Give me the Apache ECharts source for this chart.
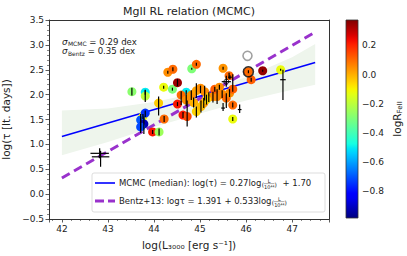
<!DOCTYPE html>
<html><head><meta charset="utf-8">
<script src="https://cdn.jsdelivr.net/npm/echarts@6/dist/echarts.min.js"></script>
<style>html,body{margin:0;padding:0;background:#fff}#c{width:407px;height:256px}</style>
</head><body><div id="c"></div><script>
// ---- data ----
const logL    = [43.52,43.81,43.81,43.76,43.81,43.71,43.78,43.71,43.97,44.11,44.10,44.22,44.21,44.30,44.41,44.40,44.51,44.51,44.70,44.82,44.92,44.63,44.72,44.59,44.70,44.81,44.92,44.92,45.01,45.10,45.08,45.19,45.28,45.37,45.32,45.42,45.48,45.57,45.64,45.50,45.63,45.71,45.71,45.71,46.05,46.11,46.36,46.75,44.86,45.02,45.14];
const logTau  = [2.06,2.05,1.97,1.56,1.63,1.49,1.41,1.35,1.25,1.25,1.83,1.51,2.15,2.45,2.51,2.11,2.24,1.81,2.05,2.52,2.61,1.59,1.56,1.99,1.89,1.99,2.08,1.66,2.13,2.06,1.83,1.95,1.96,1.96,2.11,2.15,2.01,1.93,2.03,2.53,2.38,2.11,1.79,1.51,2.46,2.30,2.48,2.50,1.84,1.76,1.90];
const tauErrLo= [0.08,0.05,0.12,0.05,0.08,0.20,0.20,0.12,0.04,0.07,0.25,0.06,0.03,0.03,0.04,0.03,0.07,0.04,0.04,0.02,0.03,0.06,0.20,0.20,0.12,0.10,0.15,0.12,0.10,0.18,0.10,0.10,0.12,0.15,0.05,0.05,0.08,0.20,0.08,0.03,0.06,0.05,0.05,0.04,0.03,0.04,0.02,0.02,0.10,0.12,0.10];
const tauErrHi= [0.08,0.05,0.12,0.05,0.05,0.12,0.15,0.20,0.04,0.07,0.13,0.06,0.03,0.03,0.04,0.03,0.07,0.04,0.04,0.02,0.03,0.06,0.32,0.08,0.12,0.10,0.15,0.10,0.05,0.12,0.10,0.10,0.10,0.15,0.05,0.05,0.08,0.10,0.08,0.03,0.06,0.30,0.05,0.04,0.03,0.04,0.02,0.02,0.10,0.12,0.10];
const logRFeII= [-0.28,-0.50,-0.20,-0.10,-0.75,-0.70,-0.92,-0.72,0.22,-0.25,-0.04,0.10,-0.12,0.05,0.10,-0.30,0.34,0.22,-0.50,-0.30,0.10,0.22,0.15,0.10,0.05,0.04,0.02,-0.05,0.05,0.05,0.04,-0.03,0.05,0.06,0.12,0.05,0.06,0.10,0.05,0.04,0.10,0.12,0.10,-0.12,0.10,0.12,0.35,-0.12,0.00,-0.02,-0.06];
// sources drawn only as black error crosses
const crossL    = [42.82,42.84,46.80,45.50,45.86,45.57,45.65];
const crossTau  = [0.82,0.75,2.30,1.73,1.70,2.26,2.35];
const crossXErr = [0.20,0.19,0.06,0.04,0.04,0.10,0.04];
const crossLo   = [0.10,0.20,0.41,0.06,0.07,0.10,0.04];
const crossHi   = [0.10,0.12,0.20,0.10,0.10,0.12,0.04];
// special markers
const ringedL = [46.05], ringedTau = [2.46];
const hollowL = [46.03], hollowTau = [2.78];
const starL = [45.57], starTau = [2.26];
// MCMC confidence band
const bandL     = [42.0,43.0,44.0,45.0,46.0,47.0,47.5];
const bandUpper = [1.68,1.72,1.85,2.05,2.35,2.75,3.02];
const bandLower = [0.78,1.05,1.35,1.62,1.88,2.10,2.20];
// relations
const lineL = [42.0, 47.5];
const L0 = 44;
const mcmcSlope = 0.27, mcmcIntercept = 1.70;
const bentzSlope = 0.533, bentzIntercept = 1.391;
const xMin = 41.72, xMax = 47.8, yMin = -0.5, yMax = 3.5;
const cbMin = -0.983, cbMax = 0.374;

// ---- helpers ----
function jetRGB(t){
  function seg(p){for(let i=1;i<p.length;i++){if(t<=p[i][0]){const a=p[i-1],b=p[i];return a[1]+(b[1]-a[1])*(t-a[0])/(b[0]-a[0]);}}return p[p.length-1][1];}
  const r=seg([[0,0],[0.35,0],[0.66,1],[0.89,1],[1,0.5]]);
  const g=seg([[0,0],[0.125,0],[0.375,1],[0.64,1],[0.91,0],[1,0]]);
  const b=seg([[0,0.5],[0.11,1],[0.34,1],[0.65,0],[1,0]]);
  return 'rgb('+Math.round(r*255)+','+Math.round(g*255)+','+Math.round(b*255)+')';
}
const jetColors=[]; for(let i=0;i<=40;i++) jetColors.push(jetRGB(i/40));
const cbStops=[]; for(let i=0;i<=40;i++) cbStops.push({offset:i/40,color:jetRGB(1-i/40)});
const minus = v => (v<0?'\u2212':'')+Math.abs(v).toFixed(1);
const FF='DejaVu Sans';
const mctx=document.createElement('canvas').getContext('2d');
function tw(s,size,st){mctx.font=(st||'normal')+' '+size+'px "DejaVu Sans"';return mctx.measureText(s).width;}
function txt(x,y,s,size,extra){
  const st=Object.assign({text:s,fontSize:size,fontFamily:FF,fill:'#222',align:'left',verticalAlign:'middle',textAlign:'left',textVerticalAlign:'middle'},extra||{});
  return {type:'text',x:x,y:y,style:st,z:100};
}
function eqRow(y,prefix,suffix){
  const fs=8.5, x0=119; const els=[txt(x0,y,prefix,fs)];
  let x=x0+tw(prefix,fs);
  els.push(txt(x+0.3,y+1.6,'(',6)); x+=tw('(',6)+0.3;
  const wn=tw('10\u2074\u2074',5);
  els.push(txt(x+wn/2,y-2.2,'L',5,{align:'center',textAlign:'center'}));
  els.push({type:'line',shape:{x1:x,y1:y+0.6,x2:x+wn,y2:y+0.6},style:{stroke:'#333',lineWidth:0.4},z:100});
  els.push(txt(x+wn/2,y+3.6,'10\u2074\u2074',5,{align:'center',textAlign:'center'}));
  x+=wn; els.push(txt(x,y+1.6,')',6)); x+=tw(')',6);
  if(suffix) els.push(txt(x+3,y,suffix,fs));
  return els;
}
function sigmaRow(y,sub,rest){
  const els=[txt(62,y,'\u03c3',8.8,{fontStyle:'italic'})];
  let x=62+tw('\u03c3',8.8,'italic')+0.3;
  els.push(txt(x,y+2,sub,6)); x+=tw(sub,6);
  els.push(txt(x,y,rest,8.6));
  return els;
}

// ---- series data ----
const scatterData = logL.map((x,i)=>[x,logTau[i],logRFeII[i]]);
const errData = logL.map((x,i)=>[x,logTau[i],tauErrLo[i],tauErrHi[i],0]);
const crossData = crossL.map((x,i)=>[x,crossTau[i],crossLo[i],crossHi[i],crossXErr[i]]);
const mcmcData = lineL.map(x=>[x, mcmcSlope*(x-L0)+mcmcIntercept]);
const bentzData = lineL.map(x=>[x, bentzIntercept+bentzSlope*(x-L0)]);
const bandData = bandL.map((x,i)=>[x,bandUpper[i],bandLower[i]]);

function errRender(params,api){
  const x=api.value(0),y=api.value(1),lo=api.value(2),hi=api.value(3),xe=api.value(4);
  const p1=api.coord([x,y-lo]),p2=api.coord([x,y+hi]);
  const ch=[{type:'line',shape:{x1:p1[0],y1:p1[1],x2:p2[0],y2:p2[1]},style:{stroke:'#000',lineWidth:1.2}}];
  if(xe>0){const q1=api.coord([x-xe,y]),q2=api.coord([x+xe,y]);
    ch.push({type:'line',shape:{x1:q1[0],y1:q1[1],x2:q2[0],y2:q2[1]},style:{stroke:'#000',lineWidth:1.2}});}
  return {type:'group',children:ch};
}
function bandRender(params,api){
  if(params.dataIndex!==0) return null;
  const pts=[];
  for(let i=0;i<bandL.length;i++) pts.push(api.coord([bandL[i],bandUpper[i]]));
  for(let i=bandL.length-1;i>=0;i--) pts.push(api.coord([bandL[i],bandLower[i]]));
  return {type:'polygon',shape:{points:pts},style:{fill:'rgb(238,245,236)',stroke:'none'}};
}
function cbRender(params,api){
  const a=api.coord([0,cbMax]),b=api.coord([1,cbMin]);
  return {type:'rect',shape:{x:a[0],y:a[1],width:b[0]-a[0],height:b[1]-a[1]},
    style:{fill:{type:'linear',x:0,y:0,x2:0,y2:1,colorStops:cbStops},stroke:'#333',lineWidth:0.8}};
}

const axLine={show:true,onZero:false,lineStyle:{color:'#333',width:1}};
const tickSt={show:true,length:3.5,inside:false,lineStyle:{color:'#333',width:0.8}};
const minorSt={show:true,splitNumber:5,length:2,lineStyle:{color:'#333',width:0.6}};
const labSt={fontSize:9,color:'#222',fontFamily:FF,showMinLabel:false,showMaxLabel:false};

const chart=echarts.init(document.getElementById('c'),null,{renderer:'svg'});
chart.setOption({
  animation:false,
  grid:[{left:49,top:20,width:280,height:199,outerBoundsMode:'none'},{left:346,top:20,width:12,height:198,outerBoundsMode:'none'}],
  xAxis:[
    {gridIndex:0,type:'value',min:xMin,max:xMax,splitNumber:5,position:'bottom',axisLine:axLine,axisTick:tickSt,minorTick:minorSt,
     axisLabel:Object.assign({margin:5},labSt),splitLine:{show:false},
     name:'log(L\u2083\u2080\u2080\u2080 [erg s\u207b\u00b9])',nameLocation:'middle',nameGap:20,nameTextStyle:{fontSize:10.5,color:'#222',fontFamily:FF}},
    {gridIndex:0,type:'value',min:xMin,max:xMax,position:'top',axisLine:axLine,axisTick:{show:false},axisLabel:{show:false},splitLine:{show:false}},
    {gridIndex:1,type:'value',min:0,max:1,show:false}
  ],
  yAxis:[
    {gridIndex:0,type:'value',min:yMin,max:yMax,interval:0.5,position:'left',axisLine:axLine,axisTick:tickSt,minorTick:minorSt,
     axisLabel:Object.assign({margin:5,formatter:minus},labSt,{showMinLabel:true,showMaxLabel:true}),splitLine:{show:false},
     name:'log(\u03c4 [lt. days])',nameLocation:'middle',nameGap:30,nameRotate:90,nameTextStyle:{fontSize:10.5,color:'#222',fontFamily:FF}},
    {gridIndex:0,type:'value',min:yMin,max:yMax,position:'right',axisLine:axLine,axisTick:{show:false},axisLabel:{show:false},splitLine:{show:false}},
    {gridIndex:1,type:'value',min:cbMin,max:cbMax,splitNumber:7,position:'right',axisLine:{show:false},axisTick:tickSt,
     axisLabel:Object.assign({margin:4,formatter:v=>minus(v)},labSt),splitLine:{show:false}}
  ],
  visualMap:[{type:'continuous',show:false,min:cbMin,max:cbMax,dimension:2,seriesIndex:3,inRange:{color:jetColors}}],
  series:[
    {type:'custom',xAxisIndex:0,yAxisIndex:0,renderItem:bandRender,data:bandData,encode:{x:0,y:1},z:1,silent:true},
    {type:'line',xAxisIndex:0,yAxisIndex:0,data:bentzData,symbol:'none',lineStyle:{color:'#9932CC',width:3,type:[9,5]},z:2},
    {type:'line',xAxisIndex:0,yAxisIndex:0,data:mcmcData,symbol:'none',lineStyle:{color:'#0000ff',width:1.6},z:2},
    {type:'scatter',xAxisIndex:0,yAxisIndex:0,data:scatterData,symbolSize:9,itemStyle:{opacity:1},z:3},
    {type:'custom',xAxisIndex:0,yAxisIndex:0,renderItem:errRender,data:errData,encode:{x:0,y:1},z:4},
    {type:'custom',xAxisIndex:0,yAxisIndex:0,renderItem:errRender,data:crossData,encode:{x:0,y:1},z:4},
    {type:'scatter',xAxisIndex:0,yAxisIndex:0,data:ringedL.map((x,i)=>[x,ringedTau[i]]),symbolSize:10,itemStyle:{color:'rgba(0,0,0,0)',borderColor:'#000',borderWidth:1.6},z:5},
    {type:'scatter',xAxisIndex:0,yAxisIndex:0,data:hollowL.map((x,i)=>[x,hollowTau[i]]),symbolSize:9,itemStyle:{color:'rgba(0,0,0,0)',borderColor:'#888',borderWidth:1.6},z:5},
    {type:'scatter',xAxisIndex:0,yAxisIndex:0,data:starL.map((x,i)=>[x,starTau[i]]),symbolSize:5,itemStyle:{color:'rgba(0,0,0,0)',borderColor:'#000',borderWidth:1},z:5},
    {type:'custom',xAxisIndex:2,yAxisIndex:2,renderItem:cbRender,data:[[0,cbMin]],encode:{x:0,y:1},z:2,silent:true}
  ],
  graphic:[].concat(
    [txt(189,11,'MgII RL relation (MCMC)',11,{align:'center',textAlign:'center'})],
    sigmaRow(41.8,'MCMC',' = 0.29 dex'),
    sigmaRow(51.2,'Bentz',' = 0.35 dex'),
    [{type:'rect',shape:{x:92,y:173,width:233,height:39,r:2},style:{fill:'rgba(255,255,255,0.85)',stroke:'#d4d4d4',lineWidth:0.8},z:99},
     {type:'line',shape:{x1:95,y1:183,x2:115,y2:183},style:{stroke:'#0000ff',lineWidth:1.6},z:100},
     {type:'line',shape:{x1:95,y1:201,x2:115,y2:201},style:{stroke:'#9932CC',lineWidth:3,lineDash:[9,4]},z:100}],
    eqRow(183,'MCMC (median): log(\u03c4) = 0.27log',' + 1.70'),
    eqRow(201,'Bentz+13: log\u03c4 = 1.391 + 0.533log',''),
    [{type:'group',x:397,y:119,rotation:Math.PI/2,z:100,children:[
      txt(-(tw('logR',10.5)+tw('FeII',7))/2,0,'logR',10.5),
      txt(-(tw('logR',10.5)+tw('FeII',7))/2+tw('logR',10.5),2.8,'FeII',7)
    ]}]
  )
});
</script></body></html>
